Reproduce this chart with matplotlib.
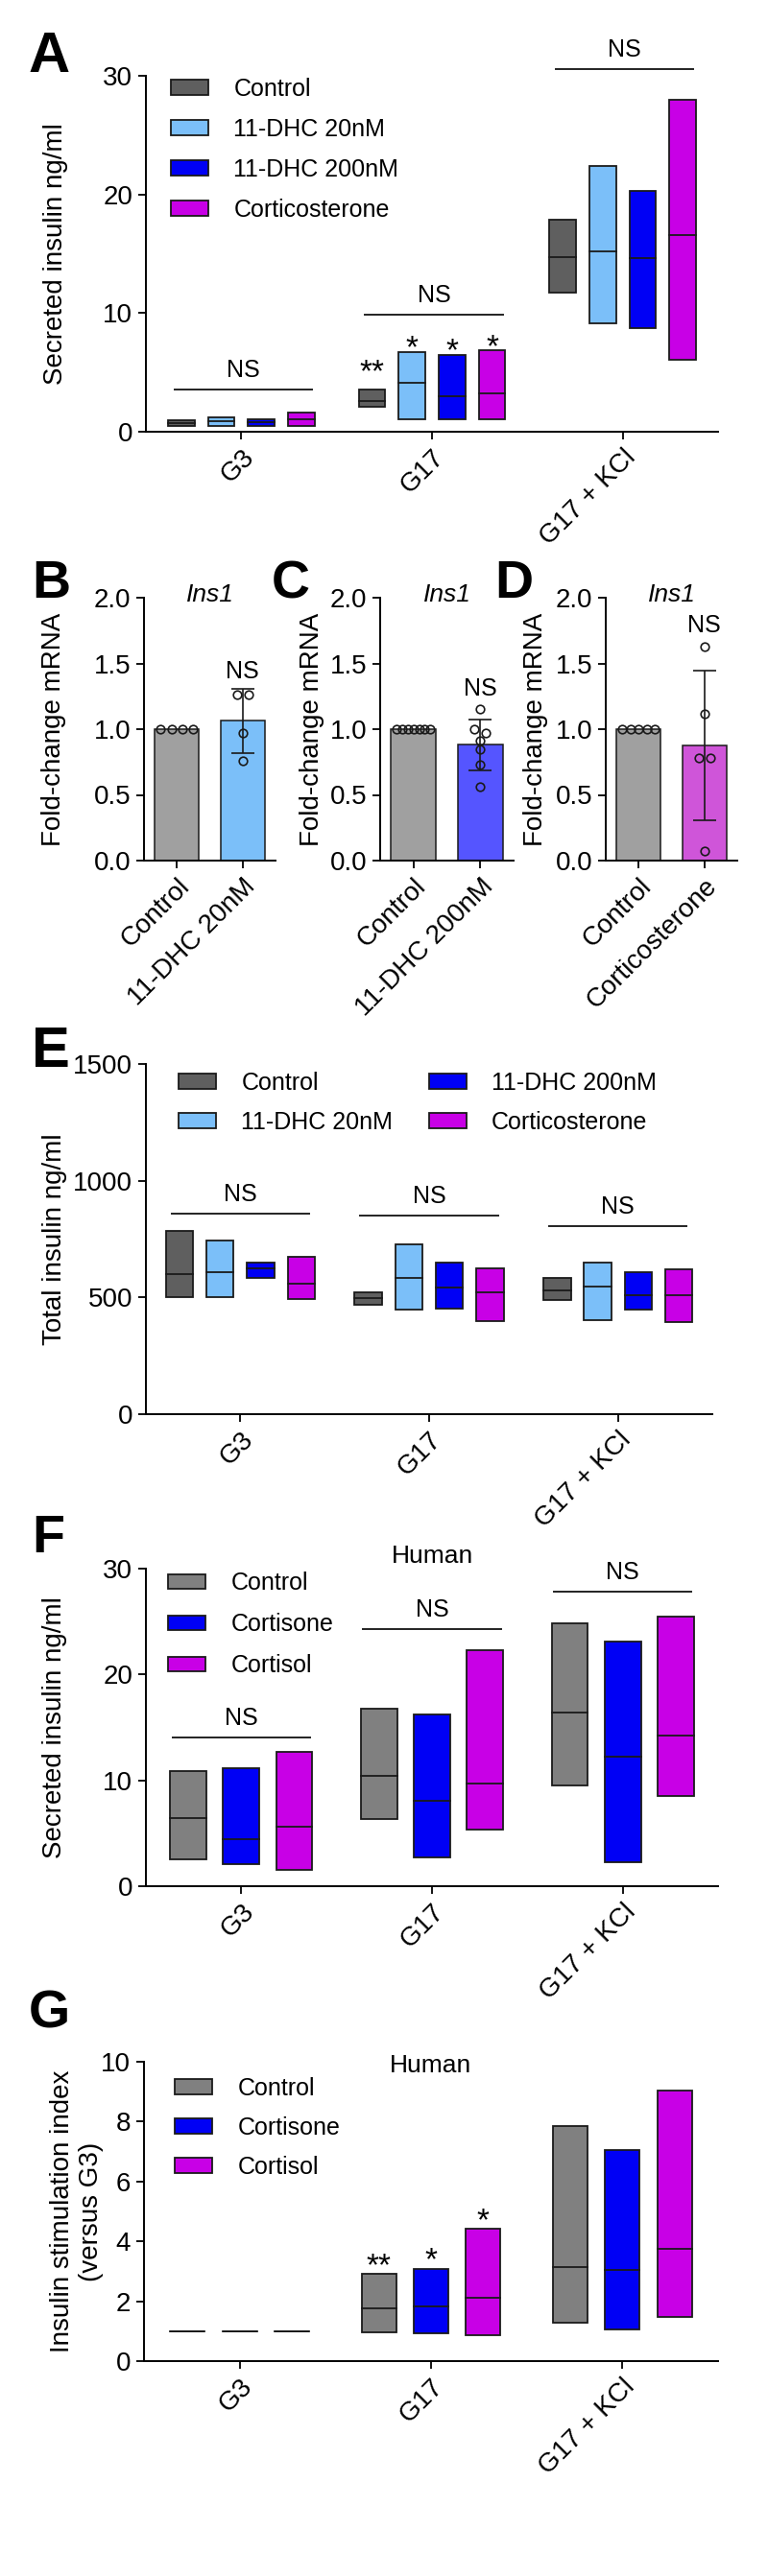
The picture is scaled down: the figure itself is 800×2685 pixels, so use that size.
import numpy as np
import matplotlib
matplotlib.use('Agg')
import matplotlib.pyplot as plt
from matplotlib.patches import Patch

plt.rcParams['font.family'] = ['Liberation Sans', 'DejaVu Sans']
plt.rcParams['axes.linewidth'] = 1.4

W, H = 800, 2685

groups = ['G3', 'G17', 'G17 + KCl']

# A - secreted insulin, mouse islets (min / median / max per group, per treatment)
a_names = ['Control', '11-DHC 20nM', '11-DHC 200nM', 'Corticosterone']
a_colors = ['#5f5f5f', '#7bbff9', '#0000f5', '#c800e6']
a_min = [[0.49, 0.49, 0.49, 0.49], [2.1, 1.08, 1.08, 1.08], [11.7, 9.1, 8.7, 6.1]]
a_med = [[0.75, 0.86, 0.78, 1.08], [2.56, 4.1, 3.02, 3.21], [14.7, 15.2, 14.6, 16.6]]
a_max = [[0.94, 1.21, 1.02, 1.59], [3.56, 6.72, 6.47, 6.88], [17.9, 22.4, 20.3, 28.0]]
a_ns = [3.56, 9.85, 30.56]
a_stars = ['**', '*', '*', '*']
a_star_y = [4.3, 6.3, 6.05, 6.4]

# B-D - Ins1 fold change mRNA
bcd_names = [['Control', '11-DHC 20nM'], ['Control', '11-DHC 200nM'], ['Control', 'Corticosterone']]
bcd_colors = [['#a0a0a0', '#7bbff9'], ['#a0a0a0', '#5555ff'], ['#a0a0a0', '#cf55d9']]
ctrl_b = [1.0, 1.0, 1.0, 1.0]
ctrl_c = [1.0, 1.0, 1.0, 1.0, 1.0, 1.0, 1.0]
ctrl_d = [1.0, 1.0, 1.0, 1.0, 1.0]
ins1_b = [1.26, 1.26, 0.97, 0.76]
ins1_c = [1.15, 1.0, 0.97, 0.91, 0.85, 0.73, 0.56]
ins1_d = [1.63, 1.12, 0.78, 0.78, 0.07]
bcd_ns = [1.35, 1.22, 1.70]

# E - total insulin
e_min = [[500, 502, 582, 495], [468, 450, 454, 400], [489, 402, 446, 394]]
e_med = [[598, 608, 624, 560], [497, 582, 543, 521], [532, 547, 509, 509]]
e_max = [[784, 743, 650, 673], [521, 729, 650, 624], [583, 651, 610, 619]]
e_ns = [858, 849, 805]

# F - human islets, secreted insulin
h_names = ['Control', 'Cortisone', 'Cortisol']
h_colors = ['#808080', '#0000f5', '#c800e6']
f_min = [[2.51, 2.12, 1.54], [6.32, 2.69, 5.38], [9.53, 2.27, 8.56]]
f_med = [[6.47, 4.41, 5.62], [10.4, 8.04, 9.71], [16.36, 12.28, 14.21]]
f_max = [[10.89, 11.13, 12.67], [16.78, 16.24, 22.26], [24.8, 23.07, 25.49]]
f_ns = [14.03, 24.25, 27.82]

# G - human islets, stimulation index
g_min = [[1.0, 1.0, 1.0], [0.95, 0.93, 0.86], [1.27, 1.06, 1.46]]
g_med = [[1.0, 1.0, 1.0], [1.75, 1.82, 2.13], [3.13, 3.06, 3.75]]
g_max = [[1.0, 1.0, 1.0], [2.91, 3.08, 4.43], [7.86, 7.04, 9.05]]
g_stars = ['**', '*', '*']
g_star_y = [2.88, 3.07, 4.38]

EDGE = '#1a1a1a'
LW = 1.3


def add_ax(fig, left, top, right, bottom):
    return fig.add_axes([left / W, 1 - bottom / H, (right - left) / W, (bottom - top) / H])


def style(ax):
    ax.spines['top'].set_visible(False)
    ax.spines['right'].set_visible(False)
    ax.tick_params(labelsize=20, length=6, width=1.3, pad=4)


def letter(fig, x, y, s, size=40):
    fig.text(x / W, 1 - y / H, s, fontsize=size, fontweight='bold', va='baseline')


def floating(ax, mins, meds, maxs, colors, step, width):
    n = len(colors)
    offs = (np.arange(n) - (n - 1) / 2) * step
    for gi in range(len(groups)):
        for ti in range(n):
            x = gi + offs[ti]
            lo, md, hi = mins[gi][ti], meds[gi][ti], maxs[gi][ti]
            ax.bar(x, hi - lo, bottom=lo, width=width, color=colors[ti],
                   edgecolor=EDGE, linewidth=LW, zorder=2)
            ax.plot([x - width / 2, x + width / 2], [md, md], color=EDGE, lw=LW, zorder=3)
    return offs


def ns(ax, x0, x1, y):
    ax.plot([x0, x1], [y, y], color='#222222', lw=1.4, clip_on=False)
    ax.annotate('NS', ((x0 + x1) / 2, y), xytext=(0, 6), textcoords='offset points',
                ha='center', va='bottom', fontsize=18, annotation_clip=False)


def group_axes(ax, ylim, yticks, ylabel, labx):
    style(ax)
    ax.set_xlim(-0.5, 2.5)
    ax.set_ylim(*ylim)
    ax.set_yticks(yticks)
    ax.set_xticks(range(len(groups)))
    ax.set_xticklabels(groups, rotation=45, ha='right', rotation_mode='anchor')
    ax.set_ylabel(ylabel, fontsize=20)
    ax.yaxis.set_label_coords(labx, 0.5)


def legend(ax, names, colors, x, y, ncol=1, spacing=0.72, colspace=1.5):
    handles = [Patch(facecolor=c, edgecolor=EDGE, linewidth=LW, label=n) for n, c in zip(names, colors)]
    ax.legend(handles=handles, loc='upper left', bbox_to_anchor=(x, y), frameon=False,
              fontsize=18, handlelength=1.56, handleheight=0.6, handletextpad=1.05,
              labelspacing=spacing, borderaxespad=0, borderpad=0, ncol=ncol,
              columnspacing=colspace)


def spread(vals, step=0.17, maxw=0.5, tol=0.05):
    vals = np.asarray(vals)
    xs = np.zeros(len(vals))
    used = np.zeros(len(vals), bool)
    for i in range(len(vals)):
        if used[i]:
            continue
        idx = np.where((~used) & (np.abs(vals - vals[i]) < tol))[0]
        used[idx] = True
        n = len(idx)
        st = step if n < 2 else min(step, maxw / (n - 1))
        xs[idx] = (np.arange(n) - (n - 1) / 2) * st
    return xs


fig = plt.figure(figsize=(W / 100, H / 100), dpi=100)

# ---------------- A
ax = add_ax(fig, 152, 79, 748, 450)
offs = floating(ax, a_min, a_med, a_max, a_colors, 0.21, 0.14)
group_axes(ax, (0, 30), [0, 10, 20, 30], 'Secreted insulin ng/ml', -0.136)
for gi, y in enumerate(a_ns):
    ns(ax, gi - 0.35, gi + 0.37, y)
for ti, s in enumerate(a_stars):
    ax.text(1 + offs[ti], a_star_y[ti], s, ha='center', va='baseline', fontsize=24)
legend(ax, a_names, a_colors, 0.044, 0.995)
letter(fig, 30, 75, 'A', 43)

# ---------------- B, C, D
bcd_ctrl = [ctrl_b, ctrl_c, ctrl_d]
bcd_pts = [ins1_b, ins1_c, ins1_d]
bcd_pos = [(150, 287, -0.59, 33, 'B'), (396, 535, -0.42, 283, 'C'), (631, 768, -0.44, 515, 'D')]
for k in range(3):
    left, right, labx, lx, lt = bcd_pos[k]
    ax = add_ax(fig, left, 623, right, 897)
    style(ax)
    for xi, pts in enumerate([bcd_ctrl[k], bcd_pts[k]]):
        m = np.mean(pts)
        ax.bar(xi, m, width=0.67, color=bcd_colors[k][xi], edgecolor=EDGE, linewidth=1.1, zorder=2)
        if xi == 1:
            sd = np.std(pts, ddof=1)
            ax.errorbar(xi, m, yerr=sd, color=EDGE, lw=1.2, capsize=8.6, capthick=1.2, zorder=3)
        ax.plot(xi + spread(pts), pts, 'o', ms=6.2, mfc='none', mec=EDGE, mew=1.2, zorder=4)
    ax.text(1, bcd_ns[k], 'NS', ha='center', va='bottom', fontsize=18)
    ax.set_xlim(-0.5, 1.5)
    ax.set_ylim(0, 2)
    ax.set_yticks([0, 0.5, 1.0, 1.5, 2.0])
    ax.set_yticklabels(['0.0', '0.5', '1.0', '1.5', '2.0'])
    ax.set_xticks([0, 1])
    ax.set_xticklabels(bcd_names[k], rotation=45, ha='right', rotation_mode='anchor')
    ax.set_ylabel('Fold-change mRNA', fontsize=20)
    ax.yaxis.set_label_coords(labx, 0.5)
    ax.text(0.5, 1.01, 'Ins1', transform=ax.transAxes, ha='center', va='center',
            fontsize=19, style='italic')
    letter(fig, lx, 623, lt, 40)

# ---------------- E
ax = add_ax(fig, 152, 1109, 742, 1474)
floating(ax, e_min, e_med, e_max, a_colors, 0.215, 0.145)
group_axes(ax, (0, 1500), [0, 500, 1000, 1500], 'Total insulin ng/ml', -0.139)
for gi, y in enumerate(e_ns):
    ns(ax, gi - 0.365, gi + 0.365, y)
legend(ax, a_names, a_colors, 0.058, 0.978, ncol=2, spacing=0.68, colspace=1.5)
letter(fig, 33, 1112, 'E', 43)

# ---------------- F
ax = add_ax(fig, 152, 1635, 748, 1966)
floating(ax, f_min, f_med, f_max, h_colors, 0.278, 0.19)
group_axes(ax, (0, 30), [0, 10, 20, 30], 'Secreted insulin ng/ml', -0.137)
for gi, y in enumerate(f_ns):
    ns(ax, gi - 0.36, gi + 0.36, y)
ax.text(0.5, 1.039, 'Human', transform=ax.transAxes, ha='center', va='center', fontsize=19)
legend(ax, h_names, h_colors, 0.039, 0.99, spacing=0.76)
letter(fig, 33, 1618, 'F', 40)

# ---------------- G
ax = add_ax(fig, 150, 2149, 748, 2461)
offs = floating(ax, g_min, g_med, g_max, h_colors, 0.273, 0.18)
group_axes(ax, (0, 10), [0, 2, 4, 6, 8, 10], 'Insulin stimulation index\n(versus G3)', -0.07)
for ti, s in enumerate(g_stars):
    ax.text(1 + offs[ti], g_star_y[ti], s, ha='center', va='baseline', fontsize=24)
ax.text(0.5, 0.987, 'Human', transform=ax.transAxes, ha='center', va='center', fontsize=19)
legend(ax, h_names, h_colors, 0.054, 0.949, spacing=0.68)
letter(fig, 30, 2113, 'G', 40)

fig.savefig('out.png', dpi=100)
